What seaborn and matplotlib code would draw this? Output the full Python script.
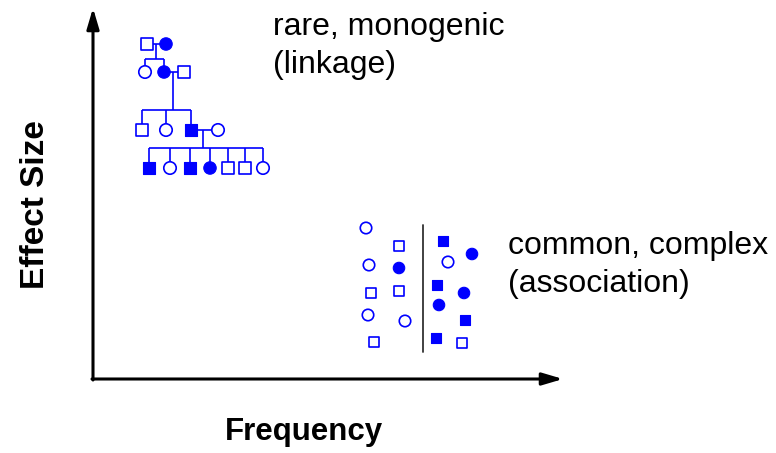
import matplotlib
matplotlib.use("Agg")
import matplotlib.pyplot as plt
import seaborn as sns
import pandas as pd

sns.set_theme(style="white")
plt.rcParams['font.family'] = ['Liberation Sans', 'DejaVu Sans']
plt.rcParams['text.color'] = 'black'

# ---- data (diagram coordinates, pixel space) ----
# pedigree (rare, monogenic)
ped_x = [147, 166, 145, 164, 184, 142, 166, 191, 218, 149, 170, 190, 210, 228, 245, 263]
ped_y = [44, 44, 72, 72, 72, 130, 130, 130, 130, 168, 168, 168, 168, 168, 168, 168]
ped_shape = ['square', 'circle', 'circle', 'circle', 'square', 'square', 'circle', 'square', 'circle',
             'square', 'circle', 'square', 'circle', 'square', 'square', 'circle']
ped_fill = [0, 1, 0, 1, 0, 0, 0, 1, 0, 1, 0, 1, 1, 0, 0, 0]

# pedigree connecting lines
seg_x0 = [147, 156, 145, 145, 164, 164, 173, 142, 142, 166, 191, 191, 203, 149, 149, 170, 190, 210, 228, 245, 263]
seg_y0 = [44, 44, 59, 59, 59, 72, 72, 110, 110, 110, 110, 130, 130, 148, 148, 148, 148, 148, 148, 148, 148]
seg_x1 = [166, 156, 164, 145, 164, 184, 173, 191, 142, 166, 191, 218, 203, 263, 149, 170, 190, 210, 228, 245, 263]
seg_y1 = [44, 59, 59, 72, 72, 72, 110, 110, 130, 130, 130, 130, 148, 148, 168, 168, 168, 168, 168, 168, 168]

# cases / controls cluster (common, complex)
clu_x = [366, 399, 369, 399, 371, 399, 368, 405, 374, 443, 472, 448, 437, 464, 439, 465, 436, 462]
clu_y = [228, 246, 265, 268, 293, 291, 315, 321, 342, 241, 254, 262, 285, 293, 305, 320, 338, 343]
clu_shape = ['circle', 'square', 'circle', 'circle', 'square', 'square', 'circle', 'circle', 'square',
             'square', 'circle', 'circle', 'square', 'circle', 'circle', 'square', 'square', 'square']
clu_fill = [0, 0, 0, 1, 0, 0, 0, 0, 0, 1, 1, 0, 1, 1, 1, 1, 1, 0]
divider_x = [423, 423]
divider_y = [225, 352]

labels_top = ["rare, monogenic", "(linkage)"]
labels_bottom = ["common, complex", "(association)"]
x_label = "Frequency"
y_label = "Effect Size"

BLUE = '#0000FF'

fig = plt.figure(figsize=(7.76, 4.53), dpi=100)
ax = fig.add_axes([0, 0, 1, 1])
ax.set_xlim(0, 776)
ax.set_ylim(453, 0)
ax.axis('off')

# axes arrows
arrow = dict(arrowstyle='-|>,head_length=1.25,head_width=0.37', lw=2.2, color='black',
             shrinkA=0, shrinkB=0, mutation_scale=10)
ax.annotate('', xy=(93, 8), xytext=(93, 380), arrowprops=arrow)
ax.annotate('', xy=(563, 379), xytext=(92, 379), arrowprops=arrow)

# pedigree lines
for x0, y0, x1, y1 in zip(seg_x0, seg_y0, seg_x1, seg_y1):
    ax.plot([x0, x1], [y0, y1], color=BLUE, lw=1.2, zorder=2, solid_capstyle='butt')

# divider
sns.lineplot(x=divider_x, y=divider_y, ax=ax, color='#333333', lw=1.3, sort=False,
             estimator=None, zorder=2)

ped = pd.DataFrame({'x': ped_x, 'y': ped_y, 'shape': ped_shape, 'fill': ped_fill})
clu = pd.DataFrame({'x': clu_x, 'y': clu_y, 'shape': clu_shape, 'fill': clu_fill})
markers = {'square': 's', 'circle': 'o'}

def draw(df, sizes):
    filled = df[df['fill'] == 1]
    opened = df[df['fill'] == 0]
    sns.scatterplot(data=filled, x='x', y='y', style='shape', markers=markers,
                    size='shape', sizes=sizes, color=BLUE, edgecolor=BLUE,
                    linewidth=0.8, ax=ax, legend=False, zorder=3)
    sns.scatterplot(data=opened, x='x', y='y', style='shape', markers=markers,
                    size='shape', sizes=sizes, facecolor='white', edgecolor=BLUE,
                    linewidth=1.2, ax=ax, legend=False, zorder=3)

draw(ped, {'square': 66, 'circle': 80})
draw(clu, {'square': 58, 'circle': 68})

ax.set_xlim(0, 776)
ax.set_ylim(453, 0)
ax.axis('off')

# text
ax.text(273, 34.5, labels_top[0], fontsize=23, ha='left', va='baseline', color='black')
ax.text(273, 72.5, labels_top[1], fontsize=23, ha='left', va='baseline', color='black')
ax.text(508, 254, labels_bottom[0], fontsize=23, ha='left', va='baseline', color='black')
ax.text(508, 292, labels_bottom[1], fontsize=23, ha='left', va='baseline', color='black')
ax.text(304, 440, x_label, fontsize=22.5, fontweight='bold', ha='center', va='baseline',
        color='black')
ax.text(43.5, 205, y_label, fontsize=24, fontweight='bold', ha='center', va='baseline',
        rotation=90, rotation_mode='anchor', color='black')

fig.savefig('out.png', dpi=100)
